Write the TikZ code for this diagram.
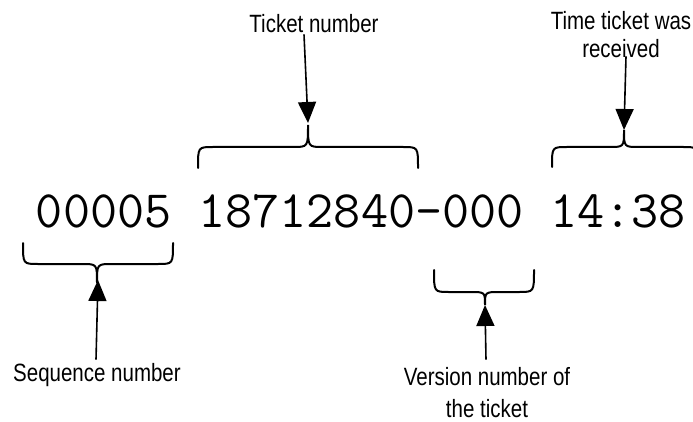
\documentclass[tikz,border=0pt]{standalone}
\usepackage{fontspec}
\newfontfamily\narrowsans{Liberation Sans}[FakeStretch=0.82]
\usepackage{tikz}
\usetikzlibrary{arrows.meta,positioning}
\tikzset{
  lbl/.style={ font=\narrowsans\fontsize{25}{28}\selectfont, inner sep=1pt, align=center }
}
\tikzset{
  tbrace/.style={ line width=2pt, line cap=round }
}
\tikzset{
  ptr/.style={ -{Triangle[length=21pt, width=18pt]}, line width=1.6pt }
}
% brace: left x, right x, tip x, end y, line y, tip y
\newcommand{\tixbrace}[6]{%
  \draw[tbrace] (#1,#4) .. controls (#1,#5) .. ({#1+15},#5) -- ({#3-15},#5)
    .. controls (#3,#5) .. (#3,#6) .. controls (#3,#5) .. ({#3+15},#5)
    -- ({#2-15},#5) .. controls (#2,#5) .. (#2,#4);}

\begin{document}
\begin{tikzpicture}[x=1pt, y=-1pt]
  \useasboundingbox (0,0) rectangle (693,422);
  \clip (0,0) rectangle (693,422);
  \node[anchor=base, font=\ttfamily\fontsize{52.6}{52.6}\selectfont, inner sep=0pt] (id) at (361,227) {00005 18712840-000 14:38};
  % labels
  \node[lbl, anchor=base] (tn) at (314,33) {Ticket number};
  \node[lbl, anchor=base] (tt) at (621,58) {Time ticket was\\received};
  \node[lbl, anchor=base] (sn) at (97,381) {Sequence number};
  \node[lbl, anchor=base] (vn) at (487,417) {Version number of\\[4pt]the ticket};
  % braces
  \tixbrace{198}{418}{308}{168}{147}{125}
  \tixbrace{552}{698}{624}{167}{147}{130}
  \tixbrace{23}{173}{97}{243}{264}{283}
  \tixbrace{434}{534}{485}{270}{292}{305}
  \coordinate (tnTip) at (308,123);
  \coordinate (ttTip) at (624,130);
  \coordinate (snTip) at (98,280);
  \coordinate (vnTip) at (485,305);
  % arrows
  \draw[ptr] ([xshift=-10pt]tn.south) -- (tnTip);
  \draw[ptr] ([xshift=5pt,yshift=3pt]tt.south) -- (ttTip);
  \draw[ptr] ([xshift=-1pt,yshift=2pt]sn.north) -- (snTip);
  \draw[ptr] ([xshift=-1pt,yshift=6pt]vn.north) -- (vnTip);
\end{tikzpicture}
\end{document}
